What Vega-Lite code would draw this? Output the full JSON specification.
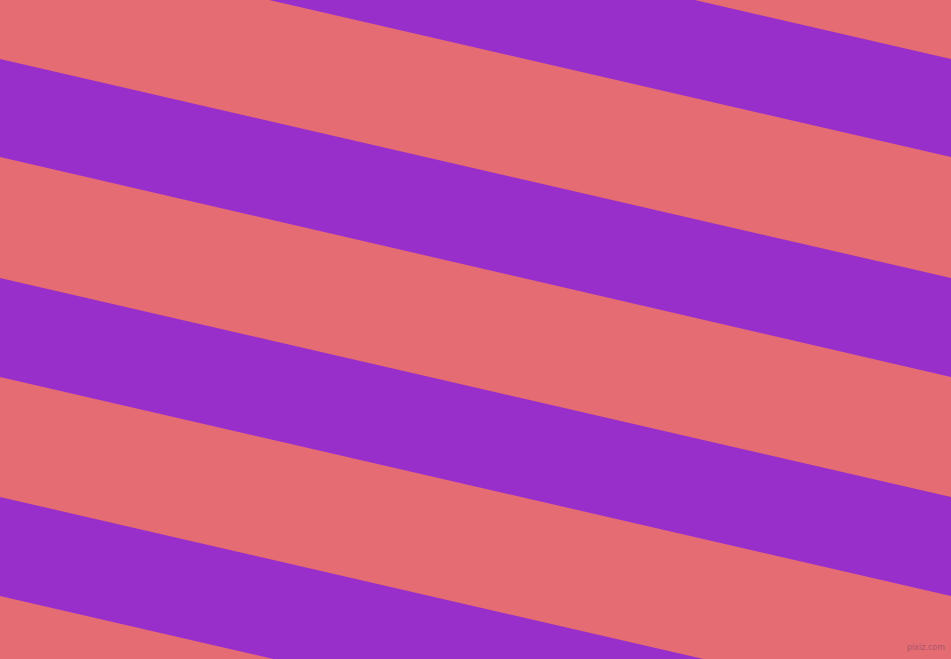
{
  "$schema": "https://vega.github.io/schema/vega-lite/v6.json",
  "width": 951,
  "height": 659,
  "autosize": {"type": "fit", "contains": "padding"},
  "padding": 0,
  "background": "#e56c72",
  "config": {"view": {"stroke": null}},
  "datasets": {
    "bands": [
      {"band": "a", "x": 0, "top": -160, "bottom": -62},
      {"band": "a", "x": 951, "top": 59, "bottom": 157},
      {"band": "b", "x": 0, "top": 59, "bottom": 157},
      {"band": "b", "x": 951, "top": 278, "bottom": 377},
      {"band": "c", "x": 0, "top": 278, "bottom": 377},
      {"band": "c", "x": 951, "top": 497, "bottom": 596},
      {"band": "d", "x": 0, "top": 497, "bottom": 596},
      {"band": "d", "x": 951, "top": 716, "bottom": 815}
    ],
    "marks": [
      {"x": 926, "y": 648, "label": "pixiz.com"}
    ]
  },
  "layer": [
    {
      "data": {"name": "bands"},
      "mark": {"type": "area", "clip": true, "color": "#982fcb", "interpolate": "linear"},
      "encoding": {
        "x": {"field": "x", "type": "quantitative", "scale": {"domain": [0, 951], "nice": false, "zero": false}, "axis": null},
        "y": {"field": "top", "type": "quantitative", "scale": {"domain": [0, 659], "reverse": true, "nice": false, "zero": false}, "axis": null},
        "y2": {"field": "bottom"},
        "detail": {"field": "band"}
      }
    },
    {
      "data": {"name": "marks"},
      "mark": {"type": "text", "font": "DejaVu Sans", "fontSize": 8, "color": "#94506c", "opacity": 0.75, "align": "center", "baseline": "middle"},
      "encoding": {
        "x": {"field": "x", "type": "quantitative"},
        "y": {"field": "y", "type": "quantitative"},
        "text": {"field": "label"}
      }
    }
  ]
}
